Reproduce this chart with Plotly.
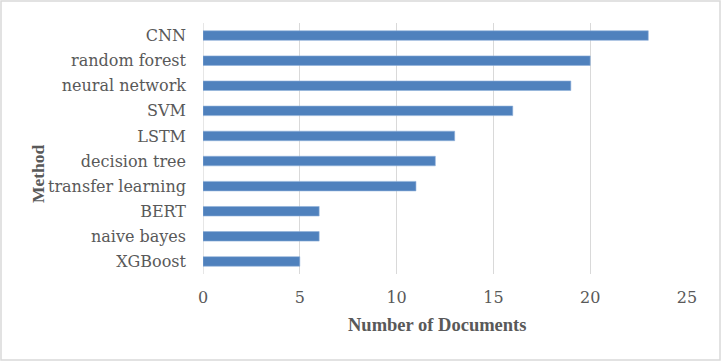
import plotly.graph_objects as go

methods = ["CNN", "random forest", "neural network", "SVM", "LSTM",
           "decision tree", "transfer learning", "BERT", "naive bayes", "XGBoost"]
documents = [23, 20, 19, 16, 13, 12, 11, 6, 6, 5]
x_ticks = [0, 5, 10, 15, 20, 25]

W, H = 721, 361
ml, mr, mt, mb = 203, 34, 23, 87
pw, ph = W - ml - mr, H - mt - mb

fig = go.Figure(go.Bar(
    x=documents, y=methods, orientation="h",
    marker=dict(color="#4f81bd", line=dict(color="#8fb0da", width=0.6)),
    width=0.38,
))

font_family = "DejaVu Serif"
title_family = "Liberation Serif"
txt = "#595959"
fig.update_layout(
    width=W, height=H,
    margin=dict(l=ml, r=mr, t=mt, b=mb, autoexpand=False),
    paper_bgcolor="white", plot_bgcolor="white",
    showlegend=False,
    font=dict(family=font_family, size=16, color=txt),
    xaxis=dict(range=[0, 25], tickvals=x_ticks, showgrid=True, automargin=False,
               gridcolor="#d9d9d9", gridwidth=1.3, zeroline=False,
               showline=False, ticks="", ticklen=0, ticklabelstandoff=12,
               tickfont=dict(size=16, color=txt)),
    yaxis=dict(categoryorder="array", categoryarray=methods[::-1], automargin=False,
               showgrid=False, showline=False, zeroline=False, ticks="",
               ticklabelstandoff=16,
               tickfont=dict(size=16, color=txt)),
    annotations=[
        dict(text="<b>Number of Documents</b>", xref="paper", yref="paper",
             x=(437 - ml) / pw, y=(H - mb - 325) / ph, showarrow=False,
             xanchor="center", yanchor="middle",
             font=dict(family=title_family, size=18.5, color=txt)),
        dict(text="<b>Method</b>", xref="paper", yref="paper",
             x=(38 - ml) / pw, y=(H - mb - 174) / ph, showarrow=False, textangle=-90,
             xanchor="center", yanchor="middle",
             font=dict(family=title_family, size=17.5, color=txt)),
    ],
    shapes=[
        dict(type="line", xref="x", yref="paper", x0=0, x1=0, y0=0, y1=1,
             line=dict(color="#d9d9d9", width=1.3), layer="below"),
        dict(type="rect", xref="paper", yref="paper",
             x0=(1 - ml) / pw, x1=(W - 1 - ml) / pw,
             y0=(H - mb - (H - 1)) / ph, y1=(H - mb - 1) / ph,
             line=dict(color="#d9d9d9", width=1.5), fillcolor="rgba(0,0,0,0)"),
    ],
)

fig.write_html("out.html", config={"displayModeBar": False},
               post_script="document.body.style.margin='0';document.body.style.overflow='hidden';")
